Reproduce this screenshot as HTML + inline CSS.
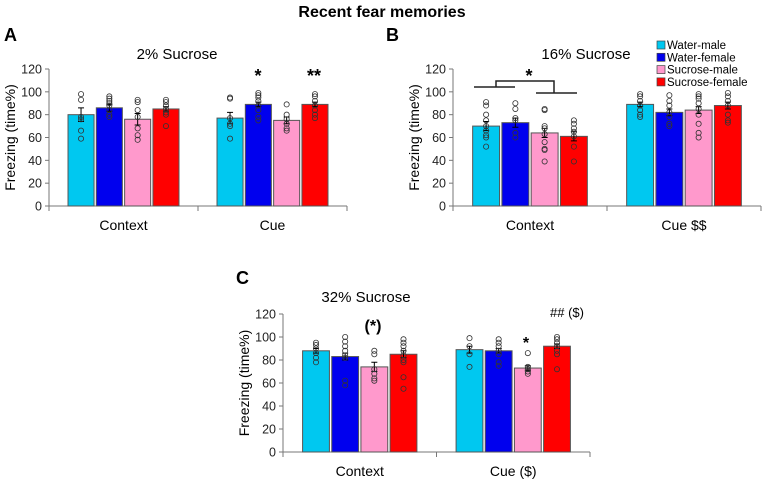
<!DOCTYPE html>
<html><head><meta charset="utf-8"><style>
html,body{margin:0;padding:0;background:#fff;}
svg{display:block;font-family:"Liberation Sans",Arial,sans-serif;}
</style></head><body>
<svg id="fig" width="765" height="479" viewBox="0 0 765 479">
<text x="382" y="17" text-anchor="middle" font-size="16" font-weight="bold">Recent fear memories</text>
</svg>
<script>
const categories = ["Context", "Cue"];
const groups = ["Water-male", "Water-female", "Sucrose-male", "Sucrose-female"];
const colors = ["#00c8f0", "#0000ee", "#ff99cc", "#ff0000"];
const yTicks = [0, 20, 40, 60, 80, 100, 120];
const valuesA = [[80, 86, 76, 85], [77, 89, 75, 89]];
const errA = [[6, 3, 5, 2], [5, 2, 3, 2]];
const valuesB = [[70, 73, 64, 61], [89, 82, 84, 88]];
const errB = [[4, 4, 4, 4], [2, 3, 3, 3]];
const valuesC = [[88, 83, 74, 85], [89, 88, 73, 92]];
const errC = [[2, 3, 4, 3], [3, 2, 2, 2]];
const dotsA = [[[98,93,78,76,66,59],[96,94,92,90,88,84,80,78],[93,91,84,78,68,62,58],[93,91,88,85,82,80,70]],
               [[95,94,77,72,70,59],[99,97,95,92,88,84,78,75],[89,80,76,72,68,66],[98,96,92,88,84,80,77]]];
const dotsB = [[[91,88,80,75,70,66,62,60,52],[90,85,77,75,64,60],[85,84,70,68,63,56,50,49,39],[75,72,68,65,61,52,39]],
               [[98,96,92,88,84,80,78],[97,92,88,82,78,72,70],[98,96,94,90,85,80,72,64,60],[99,96,92,88,80,75,73]]];
const dotsC = [[[95,93,90,86,82,78],[100,96,92,88,84,82,62,58],[88,85,72,68,64,62],[98,95,92,88,84,80,78,65,55]],
               [[99,92,85,74],[98,95,92,88,85,78,75],[86,74,72,70,68],[100,98,95,92,88,85,72]]];
const titles = ["2% Sucrose", "16% Sucrose", "32% Sucrose"];
const catLabels = [["Context","Cue"],["Context","Cue  $$"],["Context","Cue ($)"]];

const svg = document.getElementById('fig');
const NS = "http://www.w3.org/2000/svg";
function mk(tag, attrs, parent) {
  const e = document.createElementNS(NS, tag);
  for (const k in attrs) e.setAttribute(k, attrs[k]);
  (parent || svg).appendChild(e);
  return e;
}
function txt(x, y, s, size, extra, parent) {
  const t = mk('text', Object.assign({x: x, y: y, 'font-size': size}, extra || {}), parent);
  t.textContent = s;
  return t;
}

function panel(cfg) {
  const g = mk('g', {});
  
  
  const x0 = cfg.x0, x1 = cfg.x1, yb = cfg.y0, yt = cfg.y120;
  const yS = v => yb - (v / 120) * (yb - yt);
  const catW = (x1 - x0) / categories.length;
  const pitch = catW * 0.19, bw = pitch * 0.92;
  const bx = (c, i) => x0 + catW * (c + 0.5) + (i - 1.5) * pitch - bw / 2;
  const ax = mk('line', {x1: x0, y1: yt, x2: x0, y2: yb, stroke: '#777', 'stroke-width': 1}, g);
  
  
  yTicks.forEach(t => {
    mk('line', {x1: x0 - 4, y1: yS(t), x2: x0, y2: yS(t), stroke: '#777'}, g);
    const tl = txt(x0 - 7, yS(t) + 4.5, String(t), 12.5, {'text-anchor': 'end', fill: '#222'}, g);
    
    
  });
  const xa = mk('line', {x1: x0, y1: yb, x2: x1, y2: yb, stroke: '#777'}, g);
  
  
  for (let c = 0; c <= categories.length; c++) {
    mk('line', {x1: x0 + catW * c, y1: yb, x2: x0 + catW * c, y2: yb + 5, stroke: '#777'}, g);
  }
  categories.forEach((cat, c) => {
    const l = txt(x0 + catW * (c + 0.5), yb + 24, cfg.catLabels[c], 14, {'text-anchor': 'middle'}, g);
    
    
    cfg.values[c].forEach((v, i) => {
      const r = mk('rect', {x: bx(c, i), y: yS(v), width: bw, height: yb - yS(v), fill: colors[i], stroke: '#555', 'stroke-width': 1}, g);
      
      
      const cx = bx(c, i) + bw / 2, e = cfg.err[c][i];
      mk('path', {d: `M${cx},${yS(v)} V${yS(v + e)} M${cx - 3},${yS(v + e)} H${cx + 3} M${cx},${yS(v)} V${yS(v - e)} M${cx - 3},${yS(v - e)} H${cx + 3}`, stroke: '#000', 'stroke-width': 1, fill: 'none'}, g);
      cfg.dots[c][i].forEach(d => {
        const dot = mk('circle', {cx: cx, cy: yS(d), r: 2.6, fill: 'none', stroke: '#333', 'stroke-width': 0.8}, g);
        
        
      });
    });
  });
  const yt2 = txt(0, 0, 'Freezing (time%)', 14, {'text-anchor': 'middle', transform: `translate(${x0 - 34},${(yb + yt) / 2}) rotate(-90)`}, g);
  
  
  const pt = txt(cfg.titleX, cfg.titleY, cfg.title, 15, {'text-anchor': 'middle'}, g);
  
  
  const lb = txt(cfg.letterX, cfg.letterY, cfg.letter, 18, {'font-weight': 'bold'}, g);
  
  
  return {g: g, yS: yS, bx: bx, bw: bw};
}

const A = panel({name: 'panel-a', x0: 49, x1: 347, y0: 206, y120: 69, values: valuesA, err: errA, dots: dotsA, catLabels: catLabels[0], title: titles[0], titleX: 177, titleY: 59, letter: 'A', letterX: 4, letterY: 41});
const B = panel({name: 'panel-b', x0: 453, x1: 761, y0: 206, y120: 69, values: valuesB, err: errB, dots: dotsB, catLabels: catLabels[1], title: titles[1], titleX: 586, titleY: 59, letter: 'B', letterX: 386, letterY: 41});
const C = panel({name: 'panel-c', x0: 283, x1: 590, y0: 452, y120: 314, values: valuesC, err: errC, dots: dotsC, catLabels: catLabels[2], title: titles[2], titleX: 366, titleY: 302, letter: 'C', letterX: 236, letterY: 284});

function sig(x, y, s, size, name) {
  const t = txt(x, y, s, size, {'text-anchor': 'middle', 'font-weight': s.indexOf('*') >= 0 ? 'bold' : 'normal'});
  
  
}
sig(258, 82, '*', 18, 'significance-star');
sig(314, 82, '**', 18, 'significance-star');
sig(529, 82, '*', 18, 'significance-star');
sig(373, 331, '(*)', 16, 'significance-star');
sig(526, 348, '*', 16, 'significance-star');
sig(567, 317, '## ($)', 13, 'significance-note');
const br = mk('path', {d: 'M474,87 H515 M536,93 H577 M496,87 V81 H554 V93', stroke: '#222', 'stroke-width': 1.5, fill: 'none'});



const leg = mk('g', {});


groups.forEach((gname, i) => {
  const y = 45 + i * 12.3;
  mk('rect', {x: 657, y: y - 4, width: 8, height: 8, fill: colors[i], stroke: '#444', 'stroke-width': 0.7}, leg);
  const t = txt(667, y + 4, gname, 11.5, {}, leg);
  
  
});
</script>
</body></html>
